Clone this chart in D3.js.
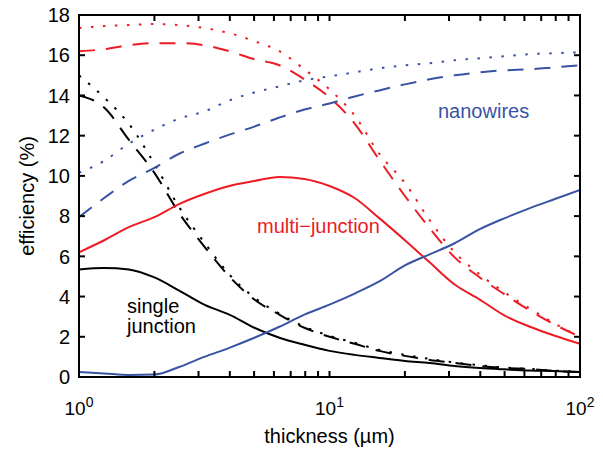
<!DOCTYPE html>
<html lang="en">
<head>
  <meta charset="UTF-8">
  <script src="https://d3js.org/d3.v7.min.js"></script>
  <style>
    body { margin: 0; background: #fff; font-family: "Liberation Sans", Arial, sans-serif; }
  </style>
</head>
<body>
<div id="chart"></div>
<script>
// thickness grid (µm), read at these points
const thickness = [1, 1.26, 1.58, 2, 2.51, 3.16, 3.98, 5.01, 6.31, 7.94, 10,
  12.6, 15.8, 20, 25.1, 31.6, 39.8, 50.1, 63.1, 79.4, 100];

// single junction (black)
const singleSolid = [5.35, 5.42, 5.35, 4.95, 4.3, 3.6, 3.1, 2.45, 1.95, 1.6, 1.3,
  1.1, 0.95, 0.8, 0.7, 0.55, 0.45, 0.38, 0.32, 0.3, 0.25];
const singleDashed = [14.0, 13.4, 11.8, 10.15, 8.15, 6.5, 5.0, 3.85, 3.1, 2.45, 2.0,
  1.65, 1.3, 1.05, 0.85, 0.7, 0.55, 0.45, 0.4, 0.3, 0.25];
const singleDotted = [15.0, 13.9, 12.6, 10.6, 8.45, 6.7, 5.1, 3.95, 3.15, 2.5, 2.05,
  1.7, 1.35, 1.1, 0.9, 0.72, 0.58, 0.47, 0.4, 0.32, 0.27];

// multi-junction (red)
const multiSolid = [6.2, 6.8, 7.45, 7.95, 8.6, 9.1, 9.5, 9.75, 9.95, 9.85, 9.5,
  8.9, 7.9, 6.8, 5.7, 4.6, 3.85, 3.05, 2.5, 2.05, 1.65];
const multiDashed = [16.2, 16.3, 16.5, 16.6, 16.6, 16.5, 16.2, 15.8, 15.5, 14.8, 13.9,
  12.6, 10.8, 9.0, 7.4, 5.95, 4.95, 4.1, 3.3, 2.6, 2.0];
const multiDotted = [17.35, 17.45, 17.5, 17.55, 17.5, 17.35, 17.1, 16.7, 16.2, 15.3, 14.3,
  13.0, 11.1, 9.65, 7.8, 6.2, 5.1, 4.2, 3.4, 2.65, 2.0];

// nanowires (blue)
const nanoSolid = [0.25, 0.18, 0.1, 0.12, 0.5, 1.0, 1.45, 1.95, 2.5, 3.1, 3.6,
  4.15, 4.75, 5.55, 6.1, 6.65, 7.35, 7.9, 8.4, 8.85, 9.3];
const nanoDashed = [7.95, 8.9, 9.75, 10.4, 11.1, 11.6, 12.05, 12.45, 12.9, 13.3, 13.6,
  13.95, 14.25, 14.55, 14.8, 15.0, 15.15, 15.25, 15.3, 15.4, 15.5];
const nanoDotted = [10.15, 10.75, 11.6, 12.3, 12.85, 13.2, 13.75, 14.15, 14.45, 14.75, 14.95,
  15.15, 15.35, 15.5, 15.6, 15.75, 15.85, 15.95, 16.05, 16.1, 16.15];

const yTicks = [0, 2, 4, 6, 8, 10, 12, 14, 16, 18];
const xMajor = [1, 10, 100];
const xLabels = ['0', '1', '2'];

const red = '#ed1c24', blue = '#3953a4', black = '#000';
const solid = null, dashed = '16,11', dotted = '2.5,9.5';

const series = [
  { values: singleSolid, color: black, dash: solid },
  { values: singleDotted, color: black, dash: dotted },
  { values: singleDashed, color: black, dash: dashed },
  { values: multiSolid, color: red, dash: solid },
  { values: multiDotted, color: red, dash: dotted },
  { values: multiDashed, color: red, dash: dashed },
  { values: nanoSolid, color: blue, dash: solid },
  { values: nanoDotted, color: blue, dash: dotted },
  { values: nanoDashed, color: blue, dash: dashed }
];

const W = 603, H = 451;
const pL = 79, pR = 580, pT = 15, pB = 377;
const tickLen = 6;

const svg = d3.select('#chart').append('svg')
  .attr('width', W).attr('height', H);

const x = d3.scaleLog().domain([1, 100]).range([pL, pR]);
const y = d3.scaleLinear().domain([0, 18]).range([pB, pT]);

const line = d3.line()
  .x((d, i) => x(thickness[i]))
  .y(d => y(d))
  .curve(d3.curveMonotoneX);

svg.append('defs').append('clipPath').attr('id', 'clip')
  .append('rect').attr('x', pL).attr('y', pT)
  .attr('width', pR - pL).attr('height', pB - pT);

const plot = svg.append('g').attr('clip-path', 'url(#clip)');
series.forEach(s => {
  plot.append('path')
    .attr('d', line(s.values))
    .attr('fill', 'none')
    .attr('stroke', s.color)
    .attr('stroke-width', 2)
    .attr('stroke-dasharray', s.dash);
});

svg.append('rect')
  .attr('x', pL).attr('y', pT)
  .attr('width', pR - pL).attr('height', pB - pT)
  .attr('fill', 'none').attr('stroke', '#000').attr('stroke-width', 2);

// ticks pointing inward on all four sides (matlab box style)
const xAll = x.ticks();
const tickG = svg.append('g');
function tick(x1, y1, x2, y2) {
  tickG.append('line')
    .attr('x1', x1).attr('y1', y1).attr('x2', x2).attr('y2', y2)
    .attr('stroke', '#000').attr('stroke-width', 2);
}
xAll.forEach(t => {
  tick(x(t), pB, x(t), pB - tickLen);
  tick(x(t), pT, x(t), pT + tickLen);
});
yTicks.forEach(t => {
  tick(pL, y(t), pL + tickLen, y(t));
  tick(pR, y(t), pR - tickLen, y(t));
});

// tick labels
svg.append('g').selectAll('text').data(yTicks).join('text')
  .attr('x', pL - 9).attr('y', d => y(d))
  .attr('dy', '0.36em')
  .attr('text-anchor', 'end')
  .attr('font-size', 20)
  .text(d => d);

const xl = svg.append('g').selectAll('text').data(xMajor).join('text')
  .attr('x', d => x(d)).attr('y', 415)
  .attr('text-anchor', 'middle')
  .attr('font-size', 19);
xl.append('tspan').text('10');
xl.append('tspan').attr('dy', -8).attr('font-size', 14).text((d, i) => xLabels[i]);

// axis titles
svg.append('text')
  .attr('x', (pL + pR) / 2).attr('y', 443)
  .attr('text-anchor', 'middle').attr('font-size', 20)
  .text('thickness (µm)');
svg.append('text')
  .attr('transform', `translate(34,${(pT + pB) / 2}) rotate(-90)`)
  .attr('text-anchor', 'middle').attr('font-size', 20)
  .text('efficiency (%)');

// curve annotations
svg.append('text').attr('x', 438).attr('y', 118)
  .attr('font-size', 20).attr('fill', blue).text('nanowires');
svg.append('text').attr('x', 257).attr('y', 233)
  .attr('font-size', 20).attr('fill', red).text('multi\u2212junction');
svg.append('text').attr('x', 127).attr('y', 313)
  .attr('font-size', 20).attr('fill', black).text('single');
svg.append('text').attr('x', 127).attr('y', 333)
  .attr('font-size', 20).attr('fill', black).text('junction');
</script>
</body>
</html>
